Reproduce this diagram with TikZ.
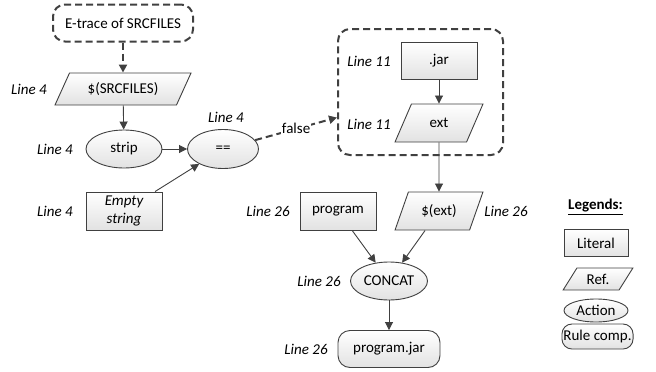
\documentclass[tikz,border=0pt]{standalone}
\usepackage{fontspec}
\setmainfont{Carlito}
\usetikzlibrary{shapes.geometric,arrows.meta}
\definecolor{ln}{RGB}{64, 64, 64}
\definecolor{fl}{RGB}{226, 226, 226}

\begin{document}
\begin{tikzpicture}[x=1pt, y=-1pt,
    every node/.style={font=\fontsize{15}{18}\selectfont},
    box/.style={draw=ln, line width=0.9pt, top color=white, bottom color=fl},
    lit/.style={box, rectangle, minimum width=76pt, minimum height=38pt},
    refn/.style={box, trapezium, trapezium left angle=65, trapezium right angle=115, trapezium stretches=true, minimum width=88pt, minimum height=38pt},
    act/.style={box, ellipse, inner sep=1pt, minimum width=76pt, minimum height=38pt},
    rule/.style={box, rectangle, rounded corners=12pt, minimum width=102pt, minimum height=37pt},
    grp/.style={draw=ln, line width=2pt, dash pattern=on 7pt off 4pt, rounded corners=12pt},
    lbl/.style={font=\fontsize{15}{18}\selectfont\itshape},
    arr/.style={draw=ln, line width=0.9pt, -{Triangle[length=8pt,width=8pt]}},
    darr/.style={draw=ln, line width=2pt, dash pattern=on 7pt off 4pt, -{Triangle[length=8pt,width=8pt]}}]
      \useasboundingbox (0, 0) rectangle (656, 372);
      \node[grp, minimum width=165pt, minimum height=126pt] (g) at (420.5, 92) {};
      \node[grp, minimum width=140pt, minimum height=37pt] (tr) at (123, 23) {E-trace of SRCFILES};
      \node[refn, minimum width=137pt, minimum height=32pt, trapezium left angle=62, trapezium right angle=118] (src) at (123, 89) {\$(SRCFILES)};
      \node[act] (strip) at (124, 149) {strip};
      \node[act, minimum width=71pt, minimum height=39pt] (eq) at (223, 149) {==};
      \node[lit, align=center, font=\fontsize{15}{18}\selectfont\itshape] (es) at (124, 211) {Empty\\string};
      \node[lit, minimum height=37pt] (jar) at (439, 61) {.jar};
      \node[refn] (ext) at (439, 123) {ext};
      \node[refn] (dext) at (439, 211) {\$(ext)};
      \node[lit] (prog) at (338, 211) {program};
      \node[act, minimum width=77pt] (cc) at (389, 281) {CONCAT};
      \node[rule] (pj) at (389, 349) {program.jar};
      % line numbers
      \node[lbl] (l1) at (29, 89) {Line 4};
      \node[lbl] (l2) at (55, 149) {Line 4};
      \node[lbl] (l3) at (226, 117) {Line 4};
      \node[lbl] (l4) at (55, 211) {Line 4};
      \node[lbl] (l5) at (369, 61) {Line 11};
      \node[lbl] (l6) at (369, 124) {Line 11};
      \node[lbl] (l7) at (268, 211) {Line 26};
      \node[lbl] (l8) at (506, 211) {Line 26};
      \node[lbl] (l9) at (319, 281) {Line 26};
      \node[lbl] (l10) at (306, 349) {Line 26};
      % legends
      \node[font=\fontsize{15}{18}\selectfont\bfseries] (lg) at (595.5, 207) {\underline{Legends:}};
      \node[lit, minimum width=64pt, minimum height=27pt] (k1) at (596, 243) {Literal};
      \node[refn, minimum width=70pt, minimum height=22pt, inner sep=1pt, trapezium left angle=57, trapezium right angle=123] (k2) at (598, 279) {Ref.};
      \node[act, minimum width=64pt, minimum height=23pt, inner sep=0pt] (k3) at (596, 310.5) {Action};
      \node[rule, minimum width=71pt, minimum height=25pt, rounded corners=10pt, inner xsep=1.5pt, inner ysep=1pt] (k4) at (597.5, 336.5) {Rule comp.};
      % edges
      \draw[darr] (tr) -- (src);
      \draw[arr] (src) -- (strip);
      \draw[arr] (strip) -- (eq);
      \draw[arr] (es) -- (eq);
      \draw[darr] (eq) -- node[fill=white, inner sep=1pt] {false} (g.197);
      \draw[arr] (jar) -- (ext);
      \draw[arr] (ext) -- (dext);
      \draw[arr] (prog) -- (cc);
      \draw[arr] (dext) -- (cc);
      \draw[arr] (cc) -- (pj);
    \end{tikzpicture}
\end{document}
